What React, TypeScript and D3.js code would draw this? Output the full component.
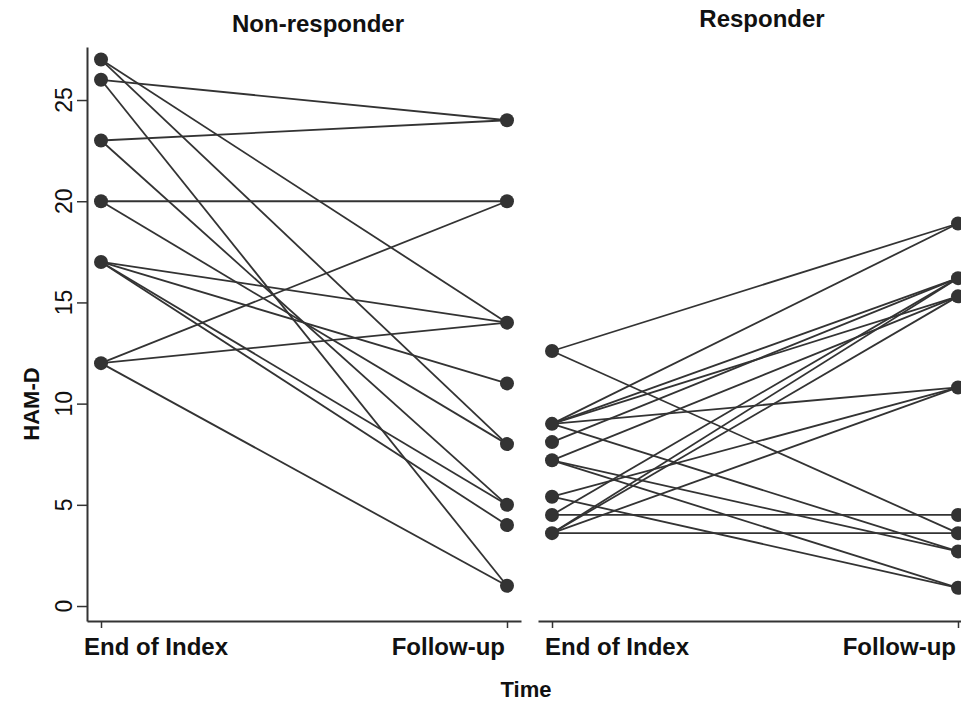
import { useEffect, useRef } from "react"
import * as d3 from "d3"

// HAM-D scores per patient: end of index episode -> follow-up
const nonResponderIndex = [27, 27, 26, 26, 23, 23, 20, 20, 17, 17, 17, 17, 12, 12, 12]
const nonResponderFollow = [14, 8, 24, 1, 24, 5, 20, 8, 14, 11, 5, 4, 20, 14, 1]

const responderIndex = [12.6, 12.6, 9, 9, 9, 9, 9, 8.1, 7.2, 7.2, 7.2, 5.4, 5.4, 4.5, 4.5, 3.6, 3.6, 3.6, 3.6]
const responderFollow = [18.9, 3.6, 18.9, 16.2, 15.3, 10.8, 2.7, 16.2, 15.3, 2.7, 0.9, 10.8, 0.9, 4.5, 16.2, 3.6, 16.2, 15.3, 10.8]

const timePoints = ["End of Index", "Follow-up"]
const yTicks = [0, 5, 10, 15, 20, 25]
const panelTitles = ["Non-responder", "Responder"]

const W = 961
const H = 701
const INK = "#333333"
const FONT = "'Liberation Sans', Arial, Helvetica, sans-serif"

export default function App() {
  const svgRef = useRef<SVGSVGElement>(null)

  useEffect(() => {
    if (!svgRef.current) return
    const svg = d3.select(svgRef.current)
    svg.selectAll("*").remove()

    const plotTop = 47
    const plotBottom = 621

    // shared y scale
    const y = d3.scaleLinear().domain([-0.74, 27.62]).range([plotBottom, plotTop])

    const panels = [
      { title: panelTitles[0], range: [87, 521], start: nonResponderIndex, end: nonResponderFollow, titleX: 318, titleY: 32, firstDx: -17 },
      { title: panelTitles[1], range: [538, 972], start: responderIndex, end: responderFollow, titleX: 762, titleY: 27, firstDx: -7 },
    ]

    panels.forEach((p, pi) => {
      const x = d3.scalePoint<string>().domain(timePoints).range(p.range as [number, number]).padding(0.0345)
      const g = svg.append("g")

      // x axis
      const xAxis = g
        .append("g")
        .attr("transform", `translate(0,${plotBottom})`)
        .call(d3.axisBottom(x).tickSize(7).tickSizeOuter(0).tickFormat(() => ""))
      xAxis.select(".domain").attr("stroke", INK).attr("stroke-width", 2)
      xAxis.selectAll(".tick line").attr("stroke", INK).attr("stroke-width", 1.5)

      // x labels
      g.append("text")
        .attr("x", (x(timePoints[0]) as number) + p.firstDx)
        .attr("y", 655)
        .attr("text-anchor", "start")
        .style("font-family", FONT)
        .style("font-weight", "bold")
        .style("font-size", "24px")
        .attr("fill", "#111")
        .text(timePoints[0])
      g.append("text")
        .attr("x", (x(timePoints[1]) as number) - 2)
        .attr("y", 655)
        .attr("text-anchor", "end")
        .style("font-family", FONT)
        .style("font-weight", "bold")
        .style("font-size", "24px")
        .attr("fill", "#111")
        .text(timePoints[1])

      // panel title
      g.append("text")
        .attr("x", p.titleX)
        .attr("y", p.titleY)
        .attr("text-anchor", "middle")
        .style("font-family", FONT)
        .style("font-weight", "bold")
        .style("font-size", "24px")
        .attr("fill", "#111")
        .text(p.title)

      // y axis only on the first panel
      if (pi === 0) {
        const yAxis = g
          .append("g")
          .attr("transform", `translate(${p.range[0]},0)`)
          .call(d3.axisLeft(y).tickValues(yTicks).tickSize(10).tickSizeOuter(0).tickFormat(() => ""))
        yAxis.select(".domain").attr("stroke", INK).attr("stroke-width", 2)
        yAxis.selectAll(".tick line").attr("stroke", INK).attr("stroke-width", 1.5)

        g.selectAll(".ylab")
          .data(yTicks)
          .enter()
          .append("text")
          .attr("class", "ylab")
          .attr("transform", (d) => `translate(72,${y(d)}) rotate(-90)`)
          .attr("text-anchor", "middle")
          .style("font-family", FONT)
          .style("font-size", "23px")
          .attr("fill", "#111")
          .text((d) => d)
      }

      const pairs = p.start.map((s, i) => ({ s, e: p.end[i] }))

      // connecting lines
      g.selectAll(".pair")
        .data(pairs)
        .enter()
        .append("line")
        .attr("x1", x(timePoints[0]) as number)
        .attr("x2", x(timePoints[1]) as number)
        .attr("y1", (d) => y(d.s))
        .attr("y2", (d) => y(d.e))
        .attr("stroke", INK)
        .attr("stroke-width", 1.8)

      // dots
      const dots = [
        ...Array.from(new Set(p.start)).map((v) => ({ t: timePoints[0], v })),
        ...Array.from(new Set(p.end)).map((v) => ({ t: timePoints[1], v })),
      ]
      g.selectAll(".dot")
        .data(dots)
        .enter()
        .append("circle")
        .attr("cx", (d) => x(d.t) as number)
        .attr("cy", (d) => y(d.v))
        .attr("r", 7)
        .attr("fill", INK)
    })

    // axis titles
    svg
      .append("text")
      .attr("transform", `translate(39,404) rotate(-90)`)
      .attr("text-anchor", "middle")
      .style("font-family", FONT)
      .style("font-weight", "bold")
      .style("font-size", "22px")
      .attr("fill", "#111")
      .text("HAM-D")

    svg
      .append("text")
      .attr("x", 526)
      .attr("y", 697)
      .attr("text-anchor", "middle")
      .style("font-family", FONT)
      .style("font-weight", "bold")
      .style("font-size", "22px")
      .attr("fill", "#111")
      .text("Time")
  }, [])

  return (
    <svg
      ref={svgRef}
      width={W}
      height={H}
      style={{ position: "absolute", left: 0, top: 0, background: "#fff" }}
    ></svg>
  )
}
